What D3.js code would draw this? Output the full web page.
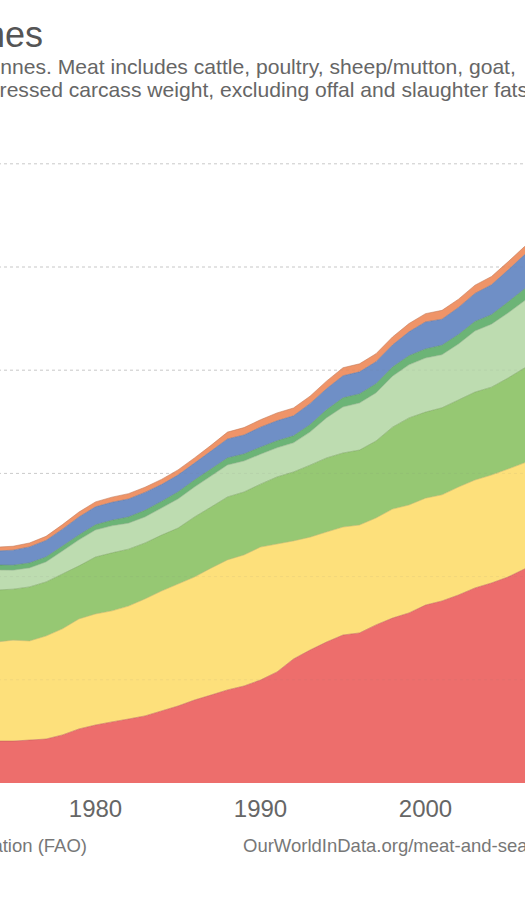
<!DOCTYPE html>
<html>
<head>
<meta charset="utf-8">
<script src="https://cdn.jsdelivr.net/npm/d3@7"></script>
<style>
html,body{margin:0;padding:0;background:#fff;overflow:hidden;}
svg{display:block;font-family:"Liberation Sans",Arial,Helvetica,sans-serif;}
</style>
</head>
<body>
<svg id="chart" width="525" height="900"></svg>
<script>
// ---------- data (million tonnes) ----------
const years = [1973,1974,1975,1976,1977,1978,1979,1980,1981,1982,1983,1984,1985,1986,1987,1988,1989,1990,
               1991,1992,1993,1994,1995,1996,1997,1998,1999,2000,2001,2002,2003,2004,2005,2006,2007];
const seriesNames = ["Asia","Europe","Northern America","South America","Central America","Africa","Oceania"];
const asia = [20.1,20.3,20.3,20.8,21.3,23.3,26.2,28.1,29.6,31.0,32.5,34.9,37.3,40.2,42.6,45.1,47.0,49.9,
              53.8,60.1,64.4,68.3,71.7,72.7,76.6,79.9,82.4,86.2,88.2,91.1,94.5,96.9,99.8,103.7,107.5];
const europe = [47.5,48.0,48.9,48.0,49.9,51.4,53.3,53.8,53.8,54.7,56.7,58.1,59.1,59.6,61.5,63.0,63.5,64.4,
                62.0,57.2,54.7,53.3,52.3,52.3,51.8,52.8,52.3,51.8,51.4,52.3,52.3,52.3,52.3,51.4,52.0];
const northernAmerica = [25.0,25.2,24.7,26.2,26.2,26.6,25.7,27.6,28.1,27.6,27.1,27.1,27.1,29.1,29.6,30.5,30.5,30.5,
                         32.5,33.4,34.9,35.9,35.9,36.3,37.3,39.7,42.2,41.7,42.2,42.2,42.6,42.6,44.1,46.0,46.5];
const southAmerica = [9.7,9.7,9.2,9.2,9.7,11.1,12.6,13.1,13.1,12.6,12.6,13.1,14.1,14.5,15.0,15.5,15.0,14.5,
                      14.1,14.1,16.0,19.4,22.3,22.8,23.3,24.7,25.7,26.2,25.7,27.1,29.6,30.5,31.5,32.5,33.5];
const centralAmerica = [2.4,2.4,2.4,2.4,2.4,2.4,2.4,2.5,2.7,3.0,3.2,3.2,3.4,3.4,3.4,3.4,3.4,3.4,
                        3.4,3.4,3.6,3.9,4.4,4.4,4.4,4.4,4.4,4.4,4.6,4.6,4.6,4.6,5.3,5.8,6.0];
const africa = [6.5,6.8,7.3,7.8,8.0,8.2,8.7,8.7,8.7,8.7,8.7,8.2,8.2,8.2,8.7,9.2,9.2,9.7,
                9.7,9.7,10.2,10.2,10.7,10.7,10.7,10.7,11.6,13.1,12.6,13.1,13.6,14.5,15.5,16.5,17.0];
const oceania = [1.9,1.9,1.9,1.9,2.0,2.2,2.4,2.4,2.5,2.6,2.5,2.5,2.5,2.5,2.8,3.3,3.6,3.6,
                 3.8,3.8,3.6,3.7,3.9,3.9,3.9,3.9,4.0,4.0,4.3,4.0,4.0,4.0,4.0,4.0,4.0];
const xTicks = [1980,1990,2000];
const yTicks = [50,100,150,200,250,300];
const colors = ["#ed6e6c","#fde07b","#96c873","#bddcb0","#6cb476","#6f8fc6","#ef9468"];

const titleText = "Meat production by region, 1961 to 2014, tonnes";
const subtitle1 = "Measured in tonnes. Meat includes cattle, poultry, sheep/mutton, goat,";
const subtitle2 = "pig meat and wild game. Data refers to dressed carcass weight, excluding offal and slaughter fats.";
const sourceText = "Source: UN Food and Agricultural Organization (FAO)";
const urlText = "OurWorldInData.org/meat-and-seafood-production • CC BY";

// ---------- build ----------
const rows = years.map((yr, i) => ({
  year: yr,
  "Asia": asia[i], "Europe": europe[i], "Northern America": northernAmerica[i],
  "South America": southAmerica[i], "Central America": centralAmerica[i],
  "Africa": africa[i], "Oceania": oceania[i]
}));

const svg = d3.select("#chart");

// chart geometry (the view shows the middle part of a wider chart)
const x = d3.scaleLinear().domain([1961, 2014]).range([-218, 656.5]);
const y = d3.scaleLinear().domain([0, 300]).range([783, 163.8]);

// gridlines under areas
svg.append("g").selectAll("line").data(yTicks).join("line")
  .attr("x1", x(1961)).attr("x2", x(2014))
  .attr("y1", d => y(d)).attr("y2", d => y(d))
  .attr("stroke", "#d3d3d3").attr("stroke-width", 1).attr("stroke-dasharray", "3,3");

const layers = d3.stack().keys(seriesNames)(rows);

const area = d3.area()
  .x(d => x(d.data.year))
  .y0(d => y(d[0]))
  .y1(d => y(d[1]));
const topLine = d3.line()
  .x(d => x(d.data.year))
  .y(d => y(d[1]));

const g = svg.append("g");
g.selectAll("path.area").data(layers).join("path")
  .attr("class", "area")
  .attr("d", area)
  .attr("fill", (d, i) => colors[i]);
g.selectAll("path.edge").data(layers).join("path")
  .attr("class", "edge")
  .attr("d", topLine)
  .attr("fill", "none")
  .attr("stroke", (d, i) => d3.color(colors[i]).darker(0.6))
  .attr("stroke-opacity", 0.55)
  .attr("stroke-width", 1);

// faint gridlines over areas
svg.append("g").selectAll("line").data(yTicks).join("line")
  .attr("x1", x(1961)).attr("x2", x(2014))
  .attr("y1", d => y(d)).attr("y2", d => y(d))
  .attr("stroke", "#777").attr("stroke-opacity", 0.09).attr("stroke-width", 1).attr("stroke-dasharray", "3,3");

// x axis labels
svg.append("g").selectAll("text").data(xTicks).join("text")
  .attr("x", d => x(d)).attr("y", 817)
  .attr("text-anchor", "middle")
  .attr("font-size", 24).attr("fill", "#666")
  .text(d => d);

// title
svg.append("text")
  .attr("x", 43).attr("y", 47)
  .attr("text-anchor", "end")
  .attr("font-size", 36).attr("fill", "#555")
  .text(titleText);

// subtitle lines: place so that the visible parts line up with the view
function placeAt(sel, prefixLen, target) {
  const w = sel.node().getSubStringLength(0, prefixLen);
  sel.attr("x", target - w);
}
const s1 = svg.append("text").attr("y", 74).attr("font-size", 21.1).attr("fill", "#666").attr("x", 0).text(subtitle1);
placeAt(s1, "Measured in to".length, 0.3);
const s2 = svg.append("text").attr("y", 96.5).attr("font-size", 21.1).attr("fill", "#666").attr("x", 0).text(subtitle2);
placeAt(s2, "pig meat and wild game. Data refers to d".length, -0.4);

// footer
svg.append("text")
  .attr("x", 87).attr("y", 852)
  .attr("text-anchor", "end")
  .attr("font-size", 18.5).attr("fill", "#777")
  .text(sourceText);
svg.append("text")
  .attr("x", 243).attr("y", 852)
  .attr("font-size", 18.5).attr("fill", "#777")
  .text(urlText);
</script>
</body>
</html>
